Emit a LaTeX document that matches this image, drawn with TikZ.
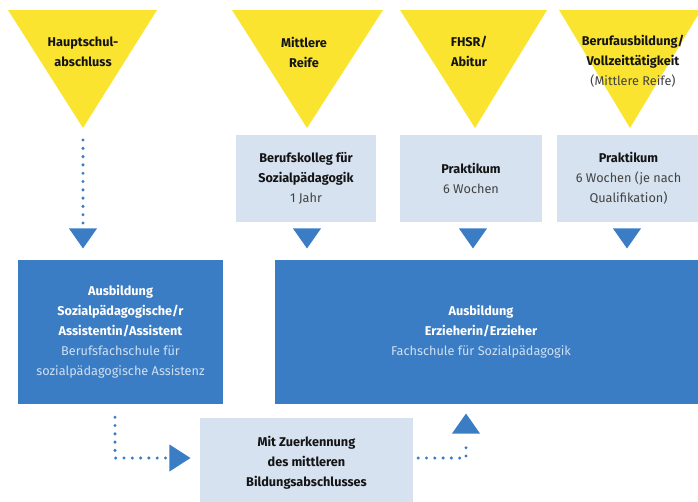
\documentclass[tikz,border=0pt]{standalone}
\usepackage{fontspec}
\setmainfont{Fira Sans}
\usetikzlibrary{shapes.geometric,calc}
\definecolor{gelb}{RGB}{250,228,48}
\definecolor{blau}{RGB}{58,125,196}
\definecolor{hellblau}{RGB}{214,226,240}
\definecolor{schrift}{RGB}{20,20,20}
\definecolor{grauschrift}{RGB}{66,66,66}
\definecolor{blasstext}{RGB}{208,224,243}
\tikzset{
  flow/.style={
    zugang/.style={fill=gelb},
    kasten/.style={fill=hellblau, inner sep=0pt},
    ausbildung/.style={fill=blau, inner sep=0pt},
    label text/.style={align=center, text=schrift, inner sep=0pt,
        font={\fontsize{12.7}{20}\selectfont}},
    weiss text/.style={label text, text=white},
    spitze/.style={isosceles triangle, isosceles triangle stretches,
        fill=blau, inner sep=0pt, minimum width=28pt, minimum height=20pt},
    punkte/.style={blau, line width=3.4pt, line cap=round,
        dash pattern=on 0pt off 8.3pt},
  }}
\newcommand{\schwach}[1]{{\color{grauschrift}#1}}
\newcommand{\blass}[1]{{\color{blasstext}#1}}

\begin{document}
\begin{tikzpicture}[flow, x=1pt, y=-1pt]
    \useasboundingbox (0,0) rectangle (698,501);
    \clip (0,0) rectangle (698,501);

    % Zugangsvoraussetzungen
    \foreach \li/\re/\ap in {8/157/83, 232/383/307, 400/547/475, 559/701/630}{
        \fill[zugang] (\li,10) -- (\re,10) -- (\ap,128) -- cycle;
    }
    \coordinate (hs-spitze) at (83,128);
    \node[label text] (hs) at (83,52) {\textbf{Hauptschul-}\\\textbf{abschluss}};
    \node[label text] (mr) at (304,52) {\textbf{Mittlere}\\\textbf{Reife}};
    \node[label text] (fh) at (469,51) {\textbf{FHSR/}\\\textbf{Abitur}};
    \node[label text] (ba) at (633,61) {\textbf{Berufausbildung/}\\\textbf{Vollzeittätigkeit}\\\schwach{(Mittlere Reife)}};

    % Zwischenschritte
    \node[kasten, minimum width=140, minimum height=87] (bk) at (306,178.5) {};
    \node[label text] at (bk) {\textbf{Berufskolleg für}\\\textbf{Sozialpädagogik}\\\schwach{1 Jahr}};
    \node[kasten, minimum width=142, minimum height=87] (pr1) at (471,178.5) {};
    \node[label text] at (pr1) {\textbf{Praktikum}\\\schwach{6 Wochen}};
    \node[kasten, minimum width=143, minimum height=87] (pr2) at (628.5,178.5) {};
    \node[label text] at (pr2) {\textbf{Praktikum}\\\schwach{6 Wochen (je nach}\\\schwach{Qualifikation)}};

    % Pfeilspitzen
    \node[spitze, shape border rotate=270, anchor=apex] (p1) at (83,249) {};
    \node[spitze, shape border rotate=270, anchor=apex] (p2) at (307,249) {};
    \node[spitze, shape border rotate=270, anchor=apex] (p3) at (473,249) {};
    \node[spitze, shape border rotate=270, anchor=apex] (p4) at (627,249) {};

    % Ausbildungen
    \node[ausbildung, minimum width=205, minimum height=144] (spa) at (120.5,332) {};
    \node[weiss text] at (spa) {\textbf{Ausbildung}\\\textbf{Sozialpädagogische/r}\\\textbf{Assistentin/Assistent}\\\blass{Berufsfachschule für}\\\blass{sozialpädagogische Assistenz}};
    \node[ausbildung, minimum width=426, minimum height=144] (erz) at (488,332) {};
    \node[weiss text] at ($(erz)+(-7,0)$) {\textbf{Ausbildung}\\\textbf{Erzieherin/Erzieher}\\\blass{Fachschule für Sozialpädagogik}};

    % Abschluss
    \node[kasten, minimum width=213, minimum height=87] (msa) at (306.5,461.5) {};
    \node[label text] at ($(msa)+(0,1)$) {\textbf{Mit Zuerkennung}\\\textbf{des mittleren}\\\textbf{Bildungsabschlusses}};
    \node[spitze, anchor=apex, minimum width=27pt, minimum height=21pt] (p5) at (191,458) {};
    \node[spitze, shape border rotate=90, anchor=apex] (p6) at (466,413) {};

    % Verbindungen
    \draw[punkte] ($(hs-spitze)+(0,12)$) -- (p1.north);
    \draw[punkte] (spa.south -| 115,0) ++(0,13) |- (p5.west);
    \draw[punkte] ($(msa.east |- p5)+(5,0)$) -| ($(p6.south)+(0,6)$);
\end{tikzpicture}
\end{document}
